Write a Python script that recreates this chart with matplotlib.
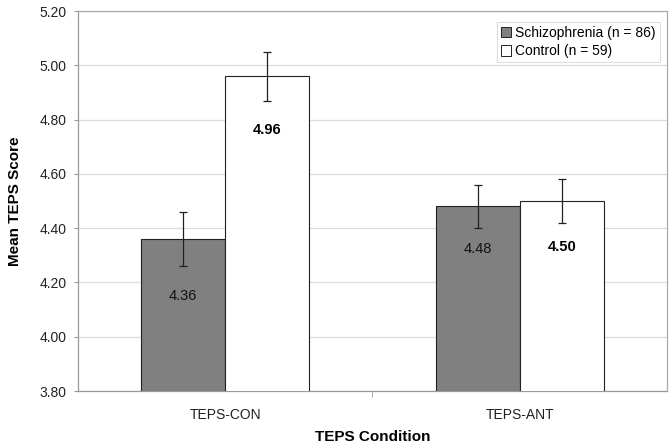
import matplotlib.pyplot as plt
import numpy as np
from matplotlib.patches import Patch

plt.rcParams['font.family'] = ['Liberation Sans', 'DejaVu Sans']

# data
conditions = ['TEPS-CON', 'TEPS-ANT']
schiz_mean = [4.36, 4.48]
schiz_err = [0.10, 0.08]
ctrl_mean = [4.96, 4.50]
ctrl_err = [0.09, 0.08]
schiz_label = 'Schizophrenia (n = 86)'
ctrl_label = 'Control (n = 59)'
# how far below the bar top the value text sits
schiz_text_drop = [0.21, 0.155]
ctrl_text_drop = [0.20, 0.17]

fig = plt.figure(figsize=(6.72, 4.46), dpi=100)
ax = fig.add_axes([0.116, 0.1233, 0.8766, 0.852])

x = np.arange(len(conditions))
w = 0.285

ax.bar(x - w / 2, schiz_mean, w, color='#808080', edgecolor='#222222', linewidth=0.8,
       yerr=schiz_err, error_kw=dict(ecolor='#222222', elinewidth=0.9, capsize=3, capthick=0.9),
       zorder=3, label=schiz_label)
ax.bar(x + w / 2, ctrl_mean, w, color='white', edgecolor='#222222', linewidth=0.8,
       yerr=ctrl_err, error_kw=dict(ecolor='#222222', elinewidth=0.9, capsize=3, capthick=0.9),
       zorder=3, label=ctrl_label)

for i in range(len(conditions)):
    ax.text(x[i] - w / 2, schiz_mean[i] - schiz_text_drop[i], f'{schiz_mean[i]:.2f}',
            ha='center', va='center', fontsize=10.5, color='#111111', zorder=4)
    ax.text(x[i] + w / 2, ctrl_mean[i] - ctrl_text_drop[i], f'{ctrl_mean[i]:.2f}',
            ha='center', va='center', fontsize=10.5, fontweight='bold', zorder=4)

ax.set_xlim(-0.5, 1.5)
ax.set_ylim(3.8, 5.2)
ax.set_yticks(np.arange(3.8, 5.21, 0.2))
ax.set_yticklabels([f'{v:.2f}' for v in np.arange(3.8, 5.21, 0.2)])
ax.set_xticks(x)
ax.set_xticklabels(conditions)
ax.set_xticks([0.5], minor=True)
ax.tick_params(axis='x', which='major', labelsize=10, colors='#222222', length=0, pad=12)
ax.tick_params(axis='x', which='minor', length=4, color='#999999')
ax.tick_params(axis='y', labelsize=10, colors='#222222', length=3, pad=5)
ax.tick_params(axis='y', color='#999999')

ax.yaxis.grid(True, color='#dddddd', linewidth=0.9, zorder=0)
ax.set_axisbelow(True)
for s in ax.spines.values():
    s.set_color('#aaaaaa')
    s.set_linewidth(0.9)
ax.spines['left'].set_color('#999999')
ax.spines['bottom'].set_color('#999999')

ax.set_ylabel('Mean TEPS Score', fontsize=11, fontweight='bold', labelpad=13)
ax.set_xlabel('TEPS Condition', fontsize=11, fontweight='bold', labelpad=6)

handles = [Patch(facecolor='#808080', edgecolor='#222222', linewidth=0.7),
           Patch(facecolor='white', edgecolor='#222222', linewidth=0.7)]
leg = ax.legend(handles, [schiz_label, ctrl_label], loc='upper right', fontsize=10,
                handlelength=0.75, handleheight=0.75, handletextpad=0.3,
                fancybox=False, framealpha=1, edgecolor='#dddddd',
                borderpad=0.3, labelspacing=0.3, bbox_to_anchor=(1.0, 0.9895))
leg.get_frame().set_linewidth(0.8)

fig.savefig('out.png', dpi=100)
